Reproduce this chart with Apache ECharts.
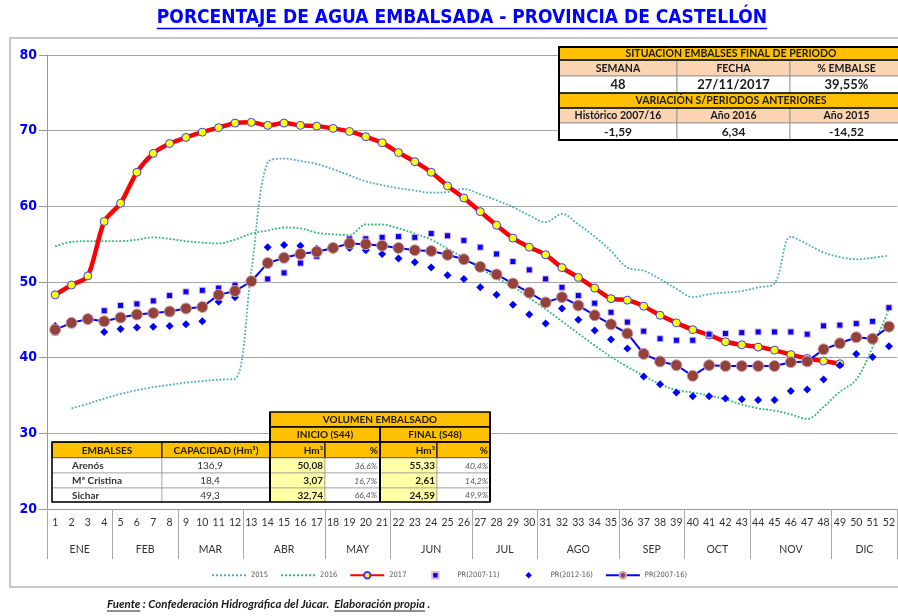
<!DOCTYPE html>
<html>
<head>
<meta charset="utf-8">
<script src="https://cdn.jsdelivr.net/npm/echarts@6/dist/echarts.min.js"></script>
<style>
html, body { margin: 0; padding: 0; background: #fff; }
#chart { width: 898px; height: 616px; }
</style>
</head>
<body>
<div id="chart"></div>
<script>
// semanas y meses del eje X
var weeks = ['1','2','3','4','5','6','7','8','9','10','11','12','13','14','15','16','17','18','19','20',
    '21','22','23','24','25','26','27','28','29','30','31','32','33','34','35','36','37','38','39','40',
    '41','42','43','44','45','46','47','48','49','50','51','52'];
var months = ['ENE','FEB','MAR','ABR','MAY','JUN','JUL','AGO','SEP','OCT','NOV','DIC'];
var monthWeeks = [4, 4, 4, 5, 4, 5, 4, 5, 4, 4, 5, 4];

// % embalsado por semana
var s2015 = [null, 33.3, 33.9, 34.6, 35.2, 35.7, 36.1, 36.4, 36.7, 36.9, 37.1, 37.2, 51.5, 65.8, 66.3, 66.0,
    65.6, 64.9, 64.1, 63.3, 62.8, 62.4, 62.1, 61.8, 61.9, 62.3, 61.6, 60.8, 59.9, 58.8, 57.9, 59.0, 57.6,
    56.0, 54.1, 51.9, 51.5, 50.4, 49.1, 48.0, 48.4, 48.6, 48.8, 49.3, 49.8, 56.0, 55.0, 53.9, 53.3, 53.0,
    53.2, 53.5];
var s2016 = [54.7, 55.3, 55.4, 55.4, 55.4, 55.6, 55.9, 55.7, 55.4, 55.2, 55.1, 55.6, 56.4, 56.8, 57.2, 57.1,
    56.5, 56.3, 56.2, 57.6, 57.6, 57.1, 56.4, 55.6, 54.4, 53.2, 51.8, 50.5, 49.4, 47.9, 46.4, 44.8, 43.2,
    41.6, 40.1, 38.8, 37.6, 36.5, 35.7, 35.4, 35.0, 34.5, 33.8, 33.3, 33.0, 32.5, 31.9, 33.5, 35.5, 37.1,
    41.4, 46.4];
var s2017 = [48.3, 49.6, 50.8, 58.0, 60.4, 64.5, 67.0, 68.3, 69.1, 69.8, 70.4, 71.0, 71.1, 70.7, 71.0, 70.7,
    70.6, 70.3, 69.9, 69.2, 68.4, 67.1, 65.9, 64.5, 62.7, 61.1, 59.3, 57.5, 55.8, 54.6, 53.6, 51.9, 50.6,
    49.2, 47.8, 47.6, 46.8, 45.6, 44.6, 43.7, 43.0, 42.1, 41.7, 41.4, 41.0, 40.4, 39.9, 39.55, 39.2, null,
    null, null];
var pr0711 = [43.3, 44.5, 45.2, 46.2, 46.9, 47.1, 47.5, 48.2, 48.7, 48.9, 49.2, 49.6, 50.1, 50.4, 51.2, 52.5,
    53.4, 54.6, 55.7, 55.7, 55.9, 56.0, 55.9, 56.4, 56.1, 55.5, 54.6, 53.7, 52.7, 51.6, 50.4, 49.3, 48.2,
    47.2, 46.0, 44.7, 43.5, 42.5, 42.3, 42.3, 43.1, 43.2, 43.3, 43.4, 43.4, 43.4, 43.1, 44.2, 44.3, 44.5,
    44.8, 46.6];
var pr1216 = [44.2, 44.6, 44.8, 43.4, 43.8, 44.0, 44.1, 44.2, 44.4, 44.8, 47.4, 48.0, 50.2, 54.6, 54.9, 54.8,
    54.4, 54.2, 54.5, 54.2, 53.7, 53.1, 52.6, 51.9, 50.9, 50.4, 49.3, 48.3, 47.0, 45.7, 44.5, 46.5, 45.0,
    43.6, 42.4, 41.2, 37.5, 36.5, 35.4, 34.9, 34.9, 34.6, 34.5, 34.4, 34.4, 35.6, 35.8, 37.1, 39.0, 40.5,
    40.1, 41.5];
var pr0716 = [43.7, 44.6, 45.1, 44.8, 45.3, 45.7, 45.9, 46.1, 46.5, 46.7, 48.3, 48.8, 50.1, 52.5, 53.2, 53.7,
    54.0, 54.5, 55.1, 55.0, 54.8, 54.5, 54.2, 54.1, 53.6, 53.0, 52.0, 51.0, 49.8, 48.6, 47.3, 48.0, 46.9,
    45.6, 44.4, 43.2, 40.5, 39.5, 39.0, 37.6, 39.0, 38.9, 38.9, 38.9, 38.9, 39.4, 39.5, 41.1, 41.9, 42.7,
    42.5, 44.1];

// tabla situación
var sitHeaders = ['SEMANA', 'FECHA', '% EMBALSE'];
var sitValues = ['48', '27/11/2017', '39,55%'];
var varHeaders = ['Histórico 2007/16', 'Año 2016', 'Año 2015'];
var varValues = ['-1,59', '6,34', '-14,52'];

// tabla embalses
var embalses = ['Arenós', 'Mª Cristina', 'Sichar'];
var capacidad = ['136,9', '18,4', '49,3'];
var inicioHm = ['50,08', '3,07', '32,74'];
var inicioPct = ['36,6%', '16,7%', '66,4%'];
var finalHm = ['55,33', '2,61', '24,59'];
var finalPct = ['40,4%', '14,2%', '49,9%'];

var NARROW = '"Liberation Sans Narrow", "DejaVu Sans Condensed", sans-serif';
var CAL = 'Lato, "Noto Sans", sans-serif';

function textWidth(str, font) {
    var ctx = document.createElement('canvas').getContext('2d');
    ctx.font = font;
    return ctx.measureText(str).width;
}

// limites y centros de meses para el segundo eje
var monthBounds = [0.5];
var monthCenters = [];
var acc = 0;
for (var i = 0; i < monthWeeks.length; i++) {
    monthCenters.push(acc + (monthWeeks[i] + 1) / 2);
    acc += monthWeeks[i];
    monthBounds.push(acc + 0.5);
}

var g = [];
function rect(x1, y1, x2, y2, fill, stroke, lw) {
    g.push({type: 'rect', z: 100, shape: {x: x1, y: y1, width: x2 - x1, height: y2 - y1},
        style: {fill: fill || 'none', stroke: stroke || null, lineWidth: lw || 0}});
}
function txt(x, y, s, font, align, color) {
    g.push({type: 'text', z: 101, x: x, y: y,
        style: {text: s, font: font, fill: color || '#1a1a1a', align: align || 'center', verticalAlign: 'middle'}});
}
function line(x1, y1, x2, y2, color, lw) {
    g.push({type: 'line', z: 102, shape: {x1: x1, y1: y1, x2: x2, y2: y2},
        style: {stroke: color || '#000', lineWidth: lw || 1}});
}

// marco del gráfico
rect(10, 38, 910, 587, 'none', '#c8c8c8', 2);

// título
var titleText = 'PORCENTAJE DE AGUA EMBALSADA - PROVINCIA DE CASTELLÓN';
var titleFont = 'bold 19px ' + NARROW;
var tw = textWidth(titleText, titleFont);
txt(462, 18, titleText, titleFont, 'center', '#0000ff');
line(462 - tw / 2, 28.5, 462 + tw / 2, 28.5, '#0000ff', 1.5);

// tabla superior derecha
var cx = [559, 677, 790, 903];
var ry = [47, 60, 76, 93, 108, 123, 140];
var ORANGE = '#ffc000', PEACH = '#fbd4b4', YEL = '#ffffa6';
rect(cx[0], ry[0], cx[3], ry[1], ORANGE);
txt((cx[0] + cx[3]) / 2, (ry[0] + ry[1]) / 2 + 0.5, 'SITUACIÓN EMBALSES FINAL DE PERIODO', 'bold 10.5px ' + CAL);
rect(cx[0], ry[3], cx[3], ry[4], ORANGE);
txt((cx[0] + cx[3]) / 2, (ry[3] + ry[4]) / 2 + 0.5, 'VARIACIÓN S/PERIODOS ANTERIORES', 'bold 10.5px ' + CAL);
for (var c = 0; c < 3; c++) {
    var mx = (cx[c] + cx[c + 1]) / 2;
    rect(cx[c], ry[1], cx[c + 1], ry[2], PEACH, '#8c8c8c', 0.8);
    txt(mx, (ry[1] + ry[2]) / 2 + 0.5, sitHeaders[c], 'bold 10.5px ' + CAL);
    rect(cx[c], ry[2], cx[c + 1], ry[3], '#fff', '#8c8c8c', 0.8);
    txt(mx, (ry[2] + ry[3]) / 2 + 0.5, sitValues[c], 'bold 13px ' + CAL);
    rect(cx[c], ry[4], cx[c + 1], ry[5], PEACH, '#8c8c8c', 0.8);
    txt(mx, (ry[4] + ry[5]) / 2 + 0.5, varHeaders[c], 'bold 10.5px ' + CAL);
    rect(cx[c], ry[5], cx[c + 1], ry[6], '#fff', '#8c8c8c', 0.8);
    txt(mx, (ry[5] + ry[6]) / 2 + 0.5, varValues[c], 'bold 12px ' + CAL);
}
[ry[1], ry[3], ry[4]].forEach(function (y) { line(cx[0], y, cx[3], y, '#000', 1.5); });
rect(cx[0], ry[0], cx[3], ry[6], 'none', '#000', 2);

// tabla inferior
var bx = [52, 162, 270, 325, 380, 437, 490];
var by = [412, 427, 442, 458, 473, 488, 502];
rect(bx[2], by[0], bx[6], by[1], ORANGE, '#000', 1.5);
txt((bx[2] + bx[6]) / 2, (by[0] + by[1]) / 2 + 0.5, 'VOLUMEN EMBALSADO', 'bold 10px ' + CAL);
rect(bx[2], by[1], bx[4], by[2], ORANGE, '#000', 1.5);
txt((bx[2] + bx[4]) / 2, (by[1] + by[2]) / 2 + 0.5, 'INICIO (S44)', 'bold 10px ' + CAL);
rect(bx[4], by[1], bx[6], by[2], ORANGE, '#000', 1.5);
txt((bx[4] + bx[6]) / 2, (by[1] + by[2]) / 2 + 0.5, 'FINAL (S48)', 'bold 10px ' + CAL);
var hdr = ['EMBALSES', 'CAPACIDAD (Hm³)', 'Hm³', '%', 'Hm³', '%'];
for (var k = 0; k < 6; k++) {
    rect(bx[k], by[2], bx[k + 1], by[3], ORANGE, '#000', 1);
    if (k < 2) txt((bx[k] + bx[k + 1]) / 2, (by[2] + by[3]) / 2 + 0.5, hdr[k], 'bold 10px ' + CAL);
    else txt(bx[k + 1] - 2, (by[2] + by[3]) / 2 + 0.5, hdr[k], 'bold 10px ' + CAL, 'right');
}
for (var r = 0; r < embalses.length; r++) {
    var y1 = by[3 + r], y2 = by[4 + r], ym = (y1 + y2) / 2 + 0.5;
    rect(bx[0], y1, bx[1], y2, '#fff', '#8c8c8c', 0.6);
    txt(72, ym, embalses[r], 'bold 10px ' + CAL, 'left', '#333');
    rect(bx[1], y1, bx[2], y2, '#fff', '#8c8c8c', 0.6);
    txt(210, ym, capacidad[r], '10px ' + CAL, 'center', '#333');
    rect(bx[2], y1, bx[3], y2, YEL, '#8c8c8c', 0.6);
    txt(bx[3] - 2, ym, inicioHm[r], 'bold 10px ' + CAL, 'right', '#1a1a1a');
    rect(bx[3], y1, bx[4], y2, '#fff', '#8c8c8c', 0.6);
    txt(bx[4] - 3, ym, inicioPct[r], 'italic 8.5px ' + CAL, 'right', '#555');
    rect(bx[4], y1, bx[5], y2, YEL, '#8c8c8c', 0.6);
    txt(bx[5] - 2, ym, finalHm[r], 'bold 10px ' + CAL, 'right', '#1a1a1a');
    rect(bx[5], y1, bx[6], y2, '#fff', '#8c8c8c', 0.6);
    txt(bx[6] - 2, ym, finalPct[r], 'italic 8.5px ' + CAL, 'right', '#555');
}
rect(bx[0], by[2], bx[6], by[6], 'none', '#000', 1.5);
line(bx[2], by[0], bx[2], by[6], '#000', 2);
line(bx[4], by[1], bx[4], by[6], '#000', 2);
line(bx[6], by[0], bx[6], by[6], '#000', 2);

// pie de página
var ffont = 'italic bold 11.5px ' + CAL;
var parts = ['Fuente', ' : Confederación Hidrográfica del Júcar.  ', 'Elaboración propia', ' .'];
var fx = 107;
for (var p = 0; p < parts.length; p++) {
    var w = textWidth(parts[p], ffont);
    g.push({type: 'text', z: 101, x: fx, y: 604,
        style: {text: parts[p], font: ffont, fill: '#1a1a1a', align: 'left', verticalAlign: 'middle'}});
    if (p === 0 || p === 2) line(fx, 611, fx + w, 611, '#1a1a1a', 1);
    fx += w;
}

var chart = echarts.init(document.getElementById('chart'));
var option = {
    animation: false,
    grid: {left: 47, right: -1, top: 55, bottom: 107},
    legend: {
        top: 566, left: 'center', itemWidth: 34, itemHeight: 8, itemGap: 12,
        textStyle: {fontSize: 7.5, color: '#555', fontFamily: NARROW},
        data: [
            {name: '2015', itemStyle: {opacity: 0}},
            {name: '2016', itemStyle: {opacity: 0}},
            '2017', 'PR(2007-11)', 'PR(2012-16)', 'PR(2007-16)'
        ]
    },
    xAxis: [{
        type: 'category', data: weeks, boundaryGap: true,
        axisLine: {lineStyle: {color: '#999'}},
        axisTick: {interval: 0, length: 22, lineStyle: {color: '#aaa'}},
        axisLabel: {interval: 0, margin: 8, fontSize: 10.5, color: '#333', fontFamily: CAL}
    }, {
        type: 'value', min: 0.5, max: 52.5, position: 'bottom',
        axisLine: {show: false}, splitLine: {show: false},
        axisTick: {show: true, customValues: monthBounds, length: 50, lineStyle: {color: '#aaa'}},
        axisLabel: {
            customValues: monthCenters, margin: 35, fontSize: 10.5, color: '#333', fontFamily: CAL,
            formatter: function (v) { return months[monthCenters.indexOf(v)]; }
        }
    }],
    yAxis: {
        type: 'value', min: 20, max: 80, interval: 10,
        axisLine: {show: true, lineStyle: {color: '#999'}},
        axisTick: {show: true, length: 8, lineStyle: {color: '#999'}},
        axisLabel: {color: '#0000ff', fontWeight: 'bold', fontSize: 14, fontFamily: NARROW, margin: 10},
        splitLine: {lineStyle: {color: '#a6a6a6'}}
    },
    series: [{
        name: '2015', type: 'line', data: s2015, smooth: 0.35, symbol: 'none', connectNulls: false,
        lineStyle: {color: '#4bacc6', width: 1.8, type: 'dotted'}, itemStyle: {color: '#4bacc6'}
    }, {
        name: '2016', type: 'line', data: s2016, smooth: 0.35, symbol: 'none',
        lineStyle: {color: '#2eb872', width: 1.8, type: 'dotted'}, itemStyle: {color: '#2eb872'}
    }, {
        name: '2017', type: 'line', data: s2017, smooth: 0.25, symbol: 'circle', symbolSize: 8,
        showAllSymbol: true,
        lineStyle: {color: '#ff0000', width: 4.5},
        itemStyle: {color: '#ffff00', borderColor: '#3a3aff', borderWidth: 1}
    }, {
        name: 'PR(2007-11)', type: 'line', data: pr0711, symbol: 'rect', symbolSize: 6, showAllSymbol: true,
        lineStyle: {width: 0, opacity: 0},
        itemStyle: {color: '#0000ff', borderColor: '#e8b8d8', borderWidth: 1}
    }, {
        name: 'PR(2012-16)', type: 'line', data: pr1216, symbol: 'diamond', symbolSize: 8, showAllSymbol: true,
        lineStyle: {width: 0, opacity: 0},
        itemStyle: {color: '#0000ff'}
    }, {
        name: 'PR(2007-16)', type: 'line', data: pr0716, symbol: 'circle', symbolSize: 11, showAllSymbol: true,
        lineStyle: {color: '#0000ff', width: 2},
        itemStyle: {color: '#94413c', borderColor: '#c8a0a8', borderWidth: 1}
    }],
    graphic: {elements: g}
};
chart.setOption(option);
</script>
</body>
</html>
